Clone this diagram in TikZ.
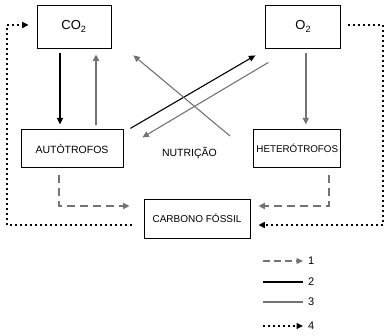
\documentclass[tikz,border=0pt]{standalone}
\usepackage{fontspec}
\setmainfont{Liberation Sans}
\usetikzlibrary{arrows.meta, positioning}

\begin{document}
\begin{tikzpicture}[
  x=1pt, y=-1pt,
  cybox/.style={draw=black, thick, minimum width=74pt, minimum height=43pt,
                inner sep=0pt, font=\fontsize{13}{15}\selectfont},
  lvbox/.style={draw=black, thick, minimum height=38pt, inner sep=0pt,
                font=\fontsize{10.5}{12}\selectfont},
  cytip/.style={-{Triangle[length=6.5pt,width=6pt]}},
  cyblack/.style={cytip, draw=black, line width=1.6pt},
  cygray/.style={cytip, draw=black!55, line width=1.6pt},
  cythin/.style={draw=black, line width=1.1pt},
  cydash/.style={cytip, draw=black!55, line width=1.5pt, dash pattern=on 8pt off 5pt},
  cydot/.style={cytip, draw=black, line width=1.4pt, dash pattern=on 2pt off 3pt},
  cykey/.style={font=\fontsize{11}{13}\selectfont, anchor=west, inner sep=0pt}
]
\useasboundingbox (0,0) rectangle (388,336);

% ---------------------------------------------- the two gases
\node[cybox] (co2) at (74,26.5) {CO\textsubscript{2}};
\node[cybox, minimum width=75pt, right=154pt of co2] (o2) {O\textsubscript{2}};

% ---------------------------------------------- the living things
\node[lvbox, minimum width=102pt, below=81pt of co2, xshift=-2pt] (auto) {AUTÓTROFOS};
\node[lvbox, minimum width=87pt, below=81pt of o2.south east, anchor=north east,
      font=\fontsize{9.8}{11}\selectfont] (hetero) {HETERÓTROFOS};
\node[lvbox, minimum width=106pt, minimum height=39pt,
      font=\fontsize{10}{12}\selectfont] (fossil) at (197,218.5) {CARBONO FÓSSIL};
\node[font=\fontsize{10.5}{12}\selectfont] (nutri) at (189.5,153) {NUTRIÇÃO};

% ---------------------------------------------- straight exchanges
\draw[cyblack] ([shift={(-14pt,-5pt)}]co2.south) -- ([shift={(-12pt,5pt)}]auto.north);
\draw[cygray] ([shift={(24pt,4pt)}]auto.north) -- ([shift={(22pt,-6pt)}]co2.south);
\draw[cygray] ([shift={(2.5pt,-5pt)}]o2.south) -- ([shift={(8.5pt,5pt)}]hetero.north);

% ---------------------------------------------- the crossing lines
\coordinate (nutstart) at (230,136);
\draw[cythin, cytip] ([shift={(7pt,1pt)}]auto.north east) -- ([shift={(-10pt,-7pt)}]o2.south west);
\draw[cygray, line width=1.1pt] ([shift={(3pt,-14pt)}]o2.south west) -- ([shift={(19pt,-8pt)}]auto.north east);
\draw[cygray, line width=1.1pt] (nutstart) -- ([shift={(22pt,-7pt)}]co2.south east);

% ---------------------------------------------- down to the fossil carbon
\draw[cydash] ([shift={(-13pt,-7pt)}]auto.south) |- ([shift={(-14pt,12.5pt)}]fossil.west);
\draw[cydash] ([shift={(31.5pt,-7pt)}]hetero.south) |- ([shift={(8pt,12.5pt)}]fossil.east);

% ---------------------------------------------- the dotted loops
\coordinate (leftrail) at (7,0);
\coordinate (rightrail) at (383,0);
\coordinate (lstart) at ([shift={(-12pt,-6.5pt)}]fossil.west);
\coordinate (rstart) at ([shift={(7pt,1.5pt)}]o2.east);
\draw[cydot] (lstart) -- (lstart -| leftrail) |- ([shift={(-8pt,1.5pt)}]co2.west);
\draw[cydot] (rstart) -- (rstart -| rightrail) |- ([shift={(8pt,-6.5pt)}]fossil.east);

% ---------------------------------------------- legend
\node[cykey] (k1) at (308,261) {1};
\node[cykey] (k2) at (308,282) {2};
\node[cykey] (k3) at (308,302) {3};
\node[cykey] (k4) at (308,326) {4};
\coordinate (l1) at (263,261);
\coordinate (l2) at (263,282);
\coordinate (l3) at (263,302);
\coordinate (l4) at (263,326);
\draw[cydash, dash pattern=on 7pt off 4pt] (l1) -- ([xshift=-5pt]k1.west);
\draw[cythin, line width=1.5pt] (l2) -- ([xshift=-5pt]k2.west);
\draw[cygray, -] (l3) -- ([xshift=-5pt]k3.west);
\draw[cydot] (l4) -- ([xshift=-5pt]k4.west);

\end{tikzpicture}
\end{document}
